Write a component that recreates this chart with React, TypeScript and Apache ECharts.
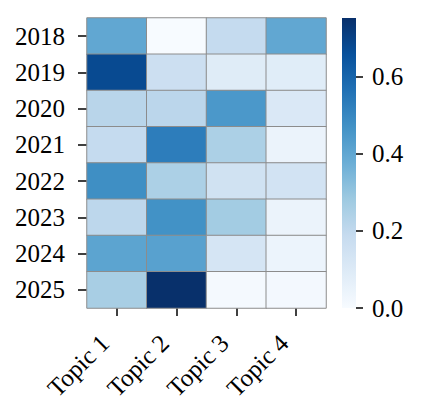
import React, { useEffect, useRef } from "react";
import * as echarts from "echarts";

const years = ["2018", "2019", "2020", "2021", "2022", "2023", "2024", "2025"];
const topics = ["Topic 1", "Topic 2", "Topic 3", "Topic 4"];
// rows = years, columns = topics
const values2018 = [0.4, 0.0, 0.19, 0.4];
const values2019 = [0.68, 0.165, 0.09, 0.085];
const values2020 = [0.22, 0.215, 0.45, 0.11];
const values2021 = [0.19, 0.53, 0.25, 0.045];
const values2022 = [0.48, 0.25, 0.15, 0.14];
const values2023 = [0.21, 0.47, 0.27, 0.045];
const values2024 = [0.41, 0.42, 0.13, 0.04];
const values2025 = [0.26, 0.753, 0.01, 0.015];
const rows = [values2018, values2019, values2020, values2021, values2022, values2023, values2024, values2025];

const vMin = 0;
const vMax = 0.753;
const colorbarTicks = [0, 0.2, 0.4, 0.6];
const blues = ["#f7fbff", "#deebf7", "#c6dbef", "#9ecae1", "#6baed6", "#4292c6", "#2171b5", "#08519c", "#08306b"];

const FONT = "'Liberation Serif', 'Times New Roman', serif";
const FS = 25;

export default function App() {
  const ref = useRef<HTMLDivElement>(null);
  useEffect(() => {
    if (!ref.current) return;
    const chart = echarts.init(ref.current, undefined, { renderer: "svg" });
    const data: [number, number, number][] = [];
    rows.forEach((r, yi) => r.forEach((v, xi) => data.push([xi, yi, v])));
    const stops = blues.map((c, i) => ({ offset: i / (blues.length - 1), color: c }));
    chart.setOption({
      animation: false,
      backgroundColor: "#ffffff",
      textStyle: { fontFamily: FONT },
      grid: [
        { left: 87, top: 18, width: 239, height: 290 },
        { left: 342, top: 18, width: 14, height: 290 },
      ],
      xAxis: [
        {
          type: "category",
          gridIndex: 0,
          data: topics,
          position: "bottom",
          axisLine: { show: false },
          axisTick: { show: true, alignWithLabel: true, length: 8, lineStyle: { color: "#000", width: 1.5 } },
          axisLabel: {
            rotate: 45,
            margin: 19,
            color: "#000",
            fontSize: FS,
            fontFamily: FONT,
            padding: [0, 17, 0, 0],
          },
          splitLine: { show: false },
        },
        {
          type: "category",
          gridIndex: 1,
          data: [""],
          show: false,
        },
      ],
      yAxis: [
        {
          type: "category",
          gridIndex: 0,
          data: years,
          inverse: true,
          axisLine: { show: false },
          axisTick: { show: true, alignWithLabel: true, length: 9, lineStyle: { color: "#000", width: 1.5 } },
          axisLabel: { margin: 22, color: "#000", fontSize: FS, fontFamily: FONT },
          splitLine: { show: false },
        },
        {
          type: "value",
          gridIndex: 1,
          min: vMin,
          max: vMax,
          position: "right",
          axisLine: { show: false },
          splitLine: { show: false },
          axisTick: {
            show: true,
            length: 7,
            lineStyle: { color: "#000", width: 1.5 },
            customValues: colorbarTicks,
          },
          axisLabel: {
            margin: 16,
            color: "#000",
            fontSize: FS,
            fontFamily: FONT,
            customValues: colorbarTicks,
            formatter: (v: number) => v.toFixed(1),
          },
        },
      ],
      visualMap: {
        show: false,
        type: "continuous",
        seriesIndex: 0,
        min: vMin,
        max: vMax,
        dimension: 2,
        inRange: { color: blues },
      },
      series: [
        {
          type: "heatmap",
          xAxisIndex: 0,
          yAxisIndex: 0,
          data,
          itemStyle: { borderColor: "#8c8c8c", borderWidth: 1 },
          emphasis: { disabled: true },
        },
        {
          type: "bar",
          xAxisIndex: 1,
          yAxisIndex: 1,
          data: [vMax],
          barWidth: "100%",
          itemStyle: { color: new echarts.graphic.LinearGradient(0, 1, 0, 0, stops) },
          silent: true,
        },
      ],
    });
    return () => chart.dispose();
  }, []);
  return <div ref={ref} style={{ width: 423, height: 420, position: "absolute", left: 0, top: 0 }} />;
}
